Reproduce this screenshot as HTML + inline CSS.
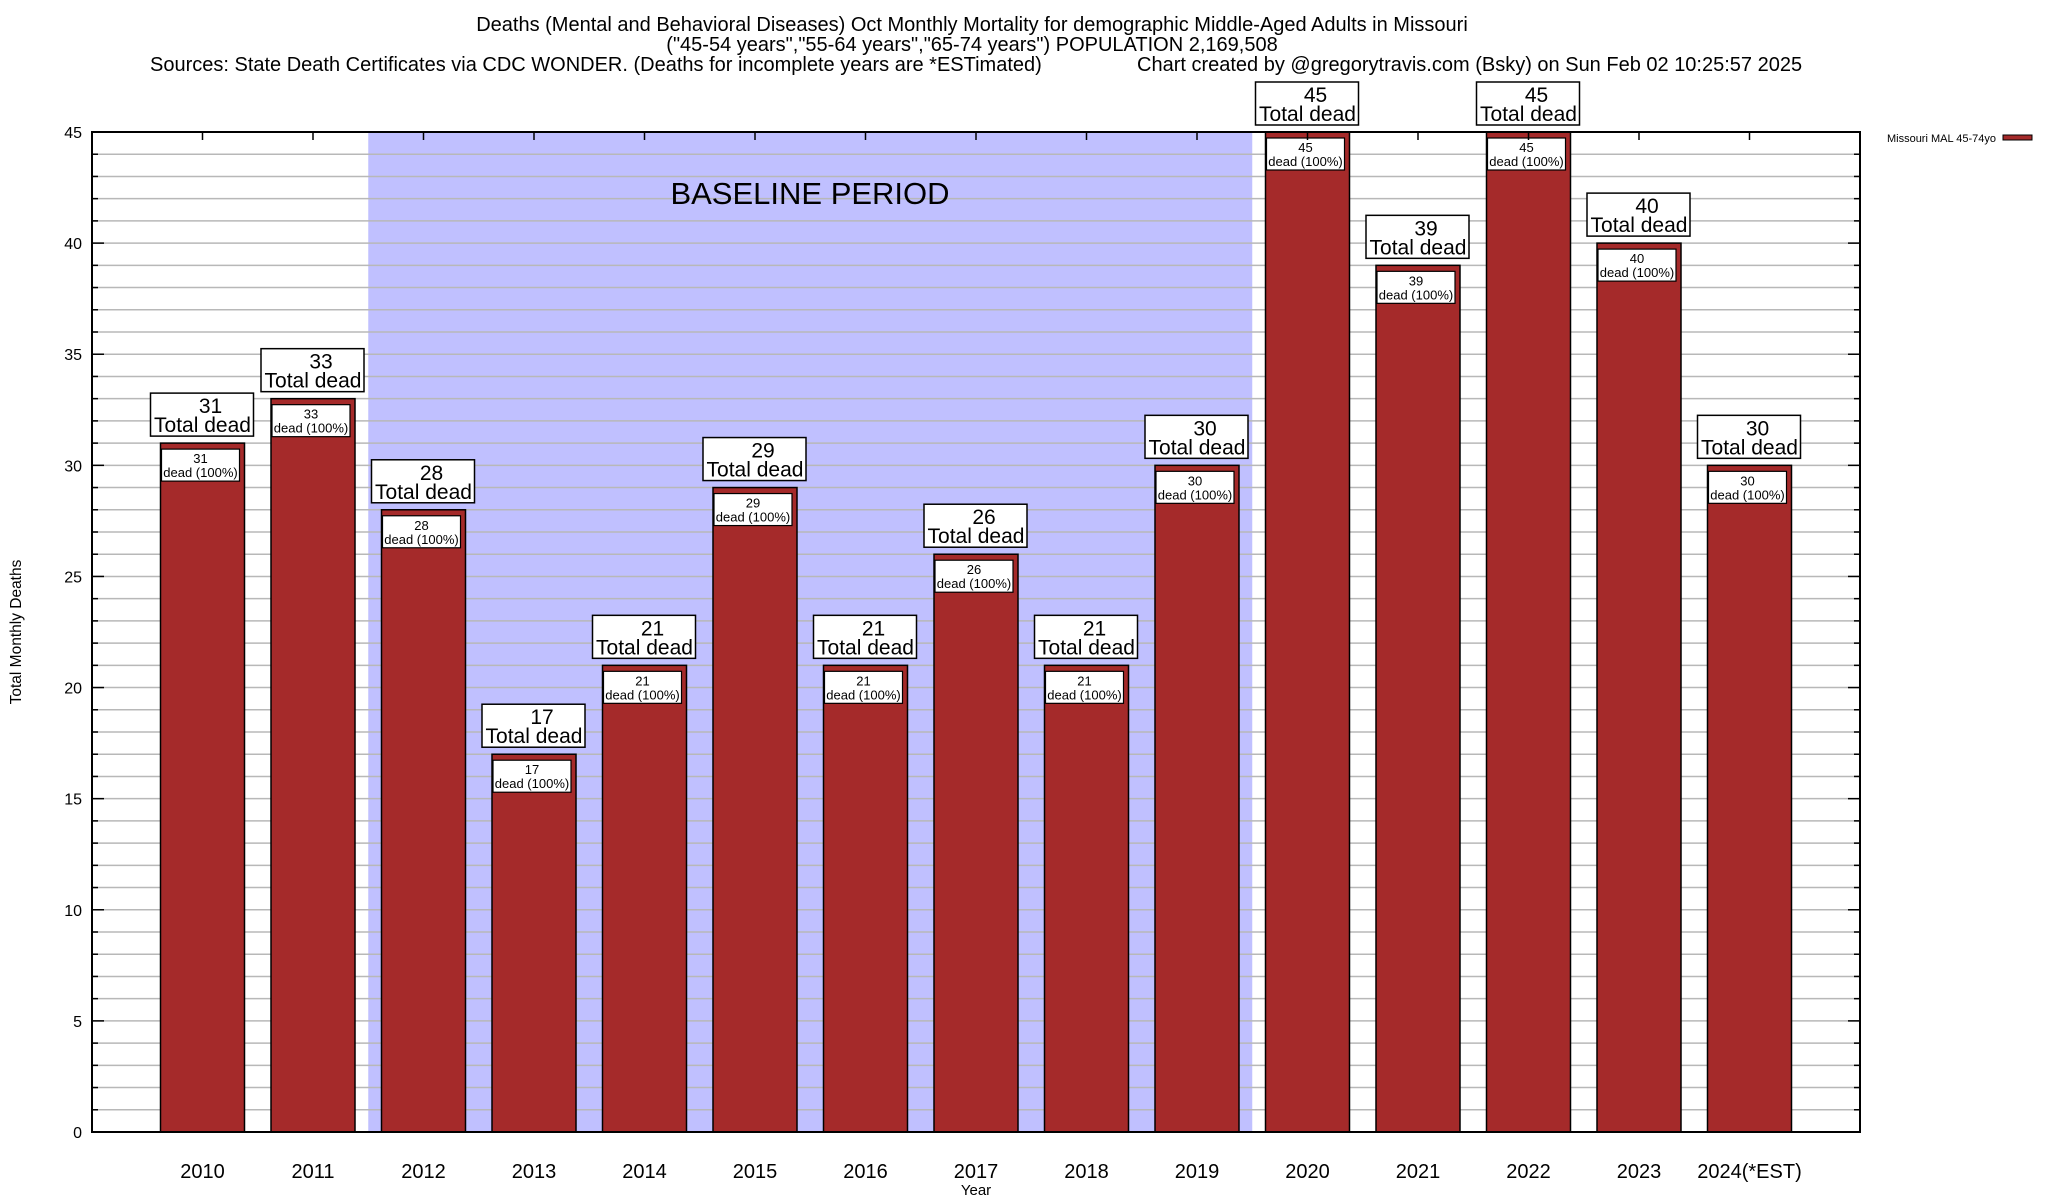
<!DOCTYPE html>
<html><head><meta charset="utf-8"><style>
html,body{margin:0;padding:0;background:#fff;}
svg{display:block;font-family:"Liberation Sans",sans-serif;}
</style></head><body>
<svg id="chart" width="2048" height="1200" viewBox="0 0 2048 1200">
<rect width="2048" height="1200" fill="#fff"/>
<g id="title" font-size="20" text-anchor="middle" fill="#000">
<text x="972" y="31">Deaths (Mental and Behavioral Diseases) Oct Monthly Mortality for demographic Middle-Aged Adults in Missouri</text>
<text x="972" y="51">("45-54 years","55-64 years","65-74 years") POPULATION 2,169,508</text>
<text x="150" y="71" text-anchor="start">Sources: State Death Certificates via CDC WONDER. (Deaths for incomplete years are *ESTimated)</text>
<text x="1137" y="71" text-anchor="start">Chart created by @gregorytravis.com (Bsky) on Sun Feb 02 10:25:57 2025</text>
</g>
<g id="plot"></g>
</svg>
<script>
const categories = ["2010","2011","2012","2013","2014","2015","2016","2017","2018","2019","2020","2021","2022","2023","2024(*EST)"];
const deaths = [31,33,28,17,21,29,21,26,21,30,45,39,45,40,30];
const yTicks = [0,5,10,15,20,25,30,35,40,45];
const baselineStart = 2, baselineEnd = 9;

const L=92,R=1860,T=132,B=1132,YMAX=45;
const slot=(R-L)/(categories.length+1);
const xc=i=>L+slot*(i+1);
const y=v=>B-(v/YMAX)*(B-T);
const NS="http://www.w3.org/2000/svg";
const g=document.getElementById('plot');
function mk(tag,attrs,parent){const e=document.createElementNS(NS,tag);for(const k in attrs)e.setAttribute(k,attrs[k]);(parent||g).appendChild(e);return e;}
function txt(s,attrs,parent){const e=mk('text',attrs,parent);e.textContent=s;return e;}

let sh=mk('rect',{x:xc(baselineStart)-slot/2,y:T,width:(baselineEnd-baselineStart+1)*slot,height:B-T,fill:'#c0c0ff'});


for(let v=1;v<YMAX;v++){
  let ln=mk('line',{x1:L,x2:R,y1:y(v),y2:y(v),stroke:'#b8b8b8','stroke-width':1.5});
  
  
  const len=(v%5===0)?12:6;
  mk('line',{x1:L,x2:L+len,y1:y(v),y2:y(v),stroke:'#000','stroke-width':1.5});
  mk('line',{x1:R-len,x2:R,y1:y(v),y2:y(v),stroke:'#000','stroke-width':1.5});
}
let bt=txt('BASELINE PERIOD',{x:810,y:204,'font-size':31,'text-anchor':'middle'});



const bw=84;
categories.forEach((c,i)=>{
  const v=deaths[i], cx=xc(i), top=y(v);
  let r=mk('rect',{x:cx-bw/2,y:top,width:bw,height:B-top,fill:'#a52a2a',stroke:'#000','stroke-width':1.5});
  
  
  let ib=mk('rect',{x:cx-bw/2+1,y:top+6,width:bw-6,height:32,fill:'#fff',stroke:'#000','stroke-width':1.2});
  
  
  let t1=txt(String(v),{x:cx-2,y:top+20,'font-size':13,'text-anchor':'middle'});
  
  
  let t2=txt('dead (100%)',{x:cx-2,y:top+34,'font-size':13,'text-anchor':'middle'});
  
  
  let ob=mk('rect',{x:cx-52,y:top-50,width:103,height:43,fill:'#fff',stroke:'#000','stroke-width':1.5});
  
  
  let o1=txt(String(v),{x:cx+8,y:top-30,'font-size':21,'text-anchor':'middle'});
  
  
  let o2=txt('Total dead',{x:cx,y:top-11,'font-size':21,'text-anchor':'middle'});
  
  
  mk('line',{x1:cx,x2:cx,y1:T,y2:T+8,stroke:'#000','stroke-width':1.5});
  let xl=txt(c,{x:cx,y:1178,'font-size':20,'text-anchor':'middle'});
  
  
});
let fr=mk('rect',{x:L,y:T,width:R-L,height:B-T,fill:'none',stroke:'#000','stroke-width':2});


yTicks.forEach(v=>{
  let tl=txt(String(v),{x:82,y:y(v)+6,'font-size':16,'text-anchor':'end'});
  
  
});
let yt=txt('Total Monthly Deaths',{x:0,y:0,'font-size':15.5,'text-anchor':'middle',transform:'translate(21,632) rotate(-90)'});


let xt=txt('Year',{x:976,y:1195,'font-size':15,'text-anchor':'middle'});


let lg=txt('Missouri MAL 45-74yo',{x:1996,y:142,'font-size':11,'text-anchor':'end'});


let ls=mk('rect',{x:2003,y:135,width:29,height:5,fill:'#a52a2a',stroke:'#000','stroke-width':1});


</script>
</body></html>
